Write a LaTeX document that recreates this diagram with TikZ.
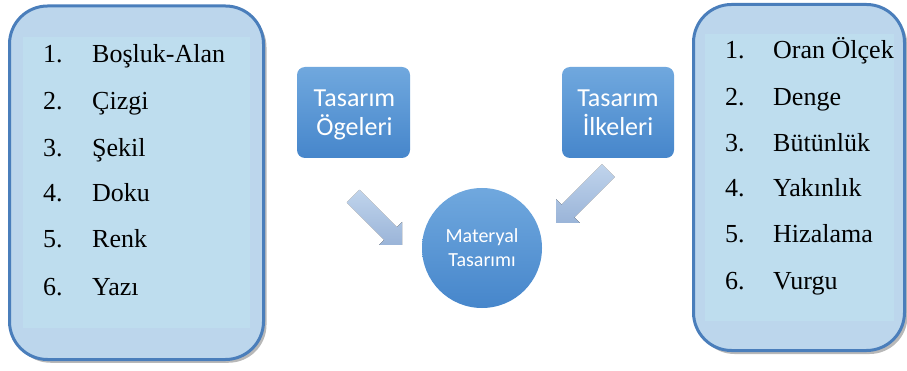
\documentclass[tikz,border=0pt]{standalone}
\usepackage{fontspec}
\setmainfont{Liberation Serif}
\newfontfamily\tilefont{Carlito}
\usetikzlibrary{calc}
\definecolor{boxborder}{HTML}{4A7EBB}
\definecolor{boxfill}{HTML}{BCD6EC}
\definecolor{innerfill}{HTML}{BEDDEE}
\definecolor{tiletop}{HTML}{70A8DE}
\definecolor{tilebot}{HTML}{4686CB}
\definecolor{arrowtop}{HTML}{C0D4EC}
\definecolor{arrowbot}{HTML}{9AB4D8}
\definecolor{shadowgray}{HTML}{B8B8B8}
\tikzset{
  listbox/.style={draw=boxborder, line width=3pt, fill=boxfill, rounded corners=38pt, inner sep=0pt},
  listshadow/.style={fill=shadowgray, rounded corners=38pt, inner sep=0pt, draw=none},
  innerrect/.style={fill=innerfill, draw=none, inner sep=0pt},
  tile/.style={rounded corners=8pt, top color=tiletop, bottom color=tilebot, draw=none, inner sep=0pt},
  hub/.style={circle, top color=tiletop, bottom color=tilebot, draw=none, inner sep=0pt},
  tiletext/.style={text=white, font=\tilefont\fontsize{26}{29}\selectfont, anchor=base, inner sep=0pt},
  hubtext/.style={text=white, font=\tilefont\fontsize{20}{24}\selectfont, anchor=base, inner sep=0pt},
  item/.style={font=\fontsize{26}{30}\selectfont, anchor=base west, inner sep=0pt},
  blockarrow/.style={top color=arrowtop, bottom color=arrowbot, draw=none},
}
\begin{document}
\begin{tikzpicture}[x=1pt,y=-1pt]
\useasboundingbox (0,0) rectangle (907,371);
% left list box
\node[listshadow, minimum width=254pt, minimum height=353.5pt] (Lsh) at (139.5,186) {};
\node[listbox, minimum width=254pt, minimum height=353.5pt] (L) at (136.5,182.75) {};
\node[innerrect, minimum width=227pt, minimum height=291pt] (Lin) at (136.5,182.5) {};
% right list box
\node[listshadow, minimum width=211pt, minimum height=346pt] (Rsh) at (802,181) {};
\node[listbox, minimum width=211pt, minimum height=346pt] (R) at (799,177.5) {};
\node[innerrect, minimum width=189pt, minimum height=287pt] (Rin) at (799.5,177.5) {};
% left items
\node[item] (l1n) at (43,63) {1.};  \node[item] (l1) at (92,63) {Boşluk-Alan};
\node[item] (l2n) at (43,110) {2.}; \node[item] (l2) at (92,110) {Çizgi};
\node[item] (l3n) at (43,157) {3.}; \node[item] (l3) at (92,157) {Şekil};
\node[item] (l4n) at (43,202) {4.}; \node[item] (l4) at (92,202) {Doku};
\node[item] (l5n) at (43,248) {5.}; \node[item] (l5) at (92,248) {Renk};
\node[item] (l6n) at (43,295) {6.}; \node[item] (l6) at (92,295) {Yazı};
% right items
\node[item] (r1n) at (725,59) {1.};  \node[item] (r1) at (773,59) {Oran Ölçek};
\node[item] (r2n) at (725,106) {2.}; \node[item] (r2) at (773,106) {Denge};
\node[item] (r3n) at (725,152) {3.}; \node[item] (r3) at (773,152) {Bütünlük};
\node[item] (r4n) at (725,197) {4.}; \node[item] (r4) at (773,197) {Yakınlık};
\node[item] (r5n) at (725,243) {5.}; \node[item] (r5) at (773,243) {Hizalama};
\node[item] (r6n) at (725,289) {6.}; \node[item] (r6) at (773,289) {Vurgu};
% tiles
\node[tile, minimum width=113pt, minimum height=91pt] (TO) at (353.5,112.5) {};
\node[tiletext] (TOa) at (354.5,107) {Tasarım};
\node[tiletext] (TOb) at (354.5,136) {Ögeleri};
\node[tile, minimum width=112pt, minimum height=91pt] (TI) at (618,112.5) {};
\node[tiletext] (TIa) at (618,107) {Tasarım};
\node[tiletext] (TIb) at (618,136) {İlkeleri};
% hub
\node[hub, minimum size=120pt] (M) at (482,248) {};
\node[hubtext] (Ma) at (482,242.5) {Materyal};
\node[hubtext] (Mb) at (482,266.5) {Tasarımı};
% block arrows
\fill[blockarrow] (346.9,202.5) -- (359.5,189.9) -- (396.8,227.2) -- (402,222) -- (402,245) -- (379,245) -- (384.2,239.8) -- cycle;
\fill[blockarrow] (602.0,164.4) -- (614.6,177.0) -- (574.2,217.4) -- (579.8,223.0) -- (556,223) -- (556,199.2) -- (561.6,204.8) -- cycle;
\end{tikzpicture}
\end{document}
